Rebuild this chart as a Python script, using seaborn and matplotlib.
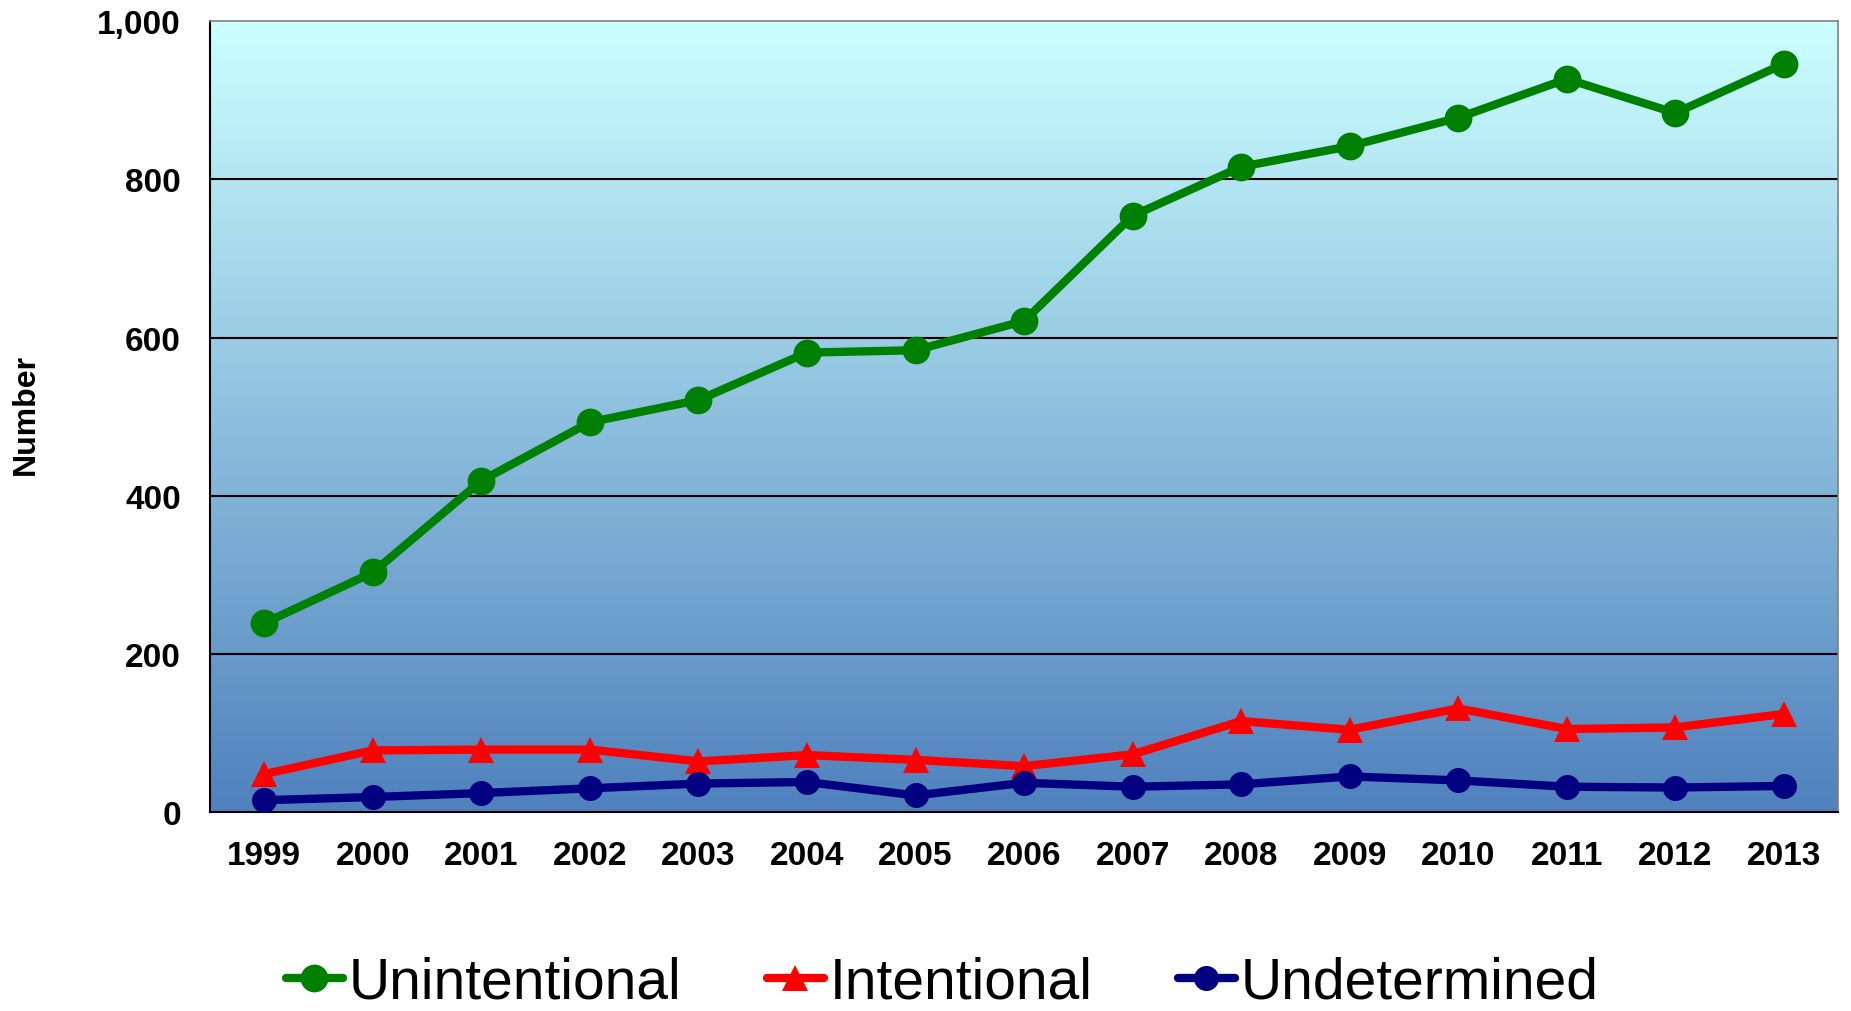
import numpy as np
import pandas as pd
import matplotlib
matplotlib.use('Agg')
import matplotlib.pyplot as plt
import matplotlib.colors as mcolors
import seaborn as sns

years = list(range(1999, 2014))
unintentional = [239, 303, 419, 493, 521, 581, 584, 621, 754, 816, 842, 878, 927, 884, 946]
intentional = [48, 78, 79, 79, 64, 72, 66, 58, 73, 115, 104, 131, 105, 107, 124]
undetermined = [15, 19, 24, 30, 36, 38, 21, 37, 32, 35, 45, 40, 32, 31, 33]
y_ticks = [0, 200, 400, 600, 800, 1000]
y_tick_labels = ['0', '200', '400', '600', '800', '1,000']

sns.set_style('white')
plt.rcParams['font.family'] = ['Liberation Sans', 'DejaVu Sans']
plt.rcParams['text.color'] = 'black'
plt.rcParams['xtick.color'] = 'black'
plt.rcParams['ytick.color'] = 'black'

fig = plt.figure(figsize=(18.51, 10.12), dpi=100)
ax = fig.add_axes([0.1135, 0.1966, 0.8795, 0.7814])

# gradient background (light cyan at top -> office blue at bottom)
cmap = mcolors.LinearSegmentedColormap.from_list('bg', ['#4F81BD', '#CCFFFF'])
grad = np.linspace(0, 1, 256).reshape(-1, 1)
ax.imshow(grad, cmap=cmap, aspect='auto', origin='lower',
          extent=[1998.5, 2013.5, 0, 1000], zorder=0)

df = pd.DataFrame({'Year': years, 'Unintentional': unintentional,
                   'Intentional': intentional, 'Undetermined': undetermined})

sns.lineplot(data=df, x='Year', y='Unintentional', ax=ax, color='#008000', lw=6,
             marker='o', markersize=20, markeredgewidth=0, label='Unintentional', zorder=5)
sns.lineplot(data=df, x='Year', y='Intentional', ax=ax, color='#FF0000', lw=6,
             marker='^', markersize=19, markeredgewidth=0, label='Intentional', zorder=4)
sns.lineplot(data=df, x='Year', y='Undetermined', ax=ax, color='#000080', lw=6,
             marker='o', markersize=18, markeredgewidth=0, label='Undetermined', zorder=4)

ax.set_xlim(1998.5, 2013.5)
ax.set_ylim(0, 1000)
ax.set_yticks(y_ticks)
ax.set_yticklabels(y_tick_labels)
ax.set_xticks(years)
ax.set_xticks(np.arange(1998.5, 2014, 1), minor=True)
ax.tick_params(axis='x', which='major', length=0, pad=20, labelsize=24)
ax.tick_params(axis='x', which='minor', length=10, width=1.5, direction='out', color='black')
ax.tick_params(axis='y', which='major', length=9, width=1.5, direction='out', color='black',
               labelsize=24, pad=12)
for lbl in ax.get_xticklabels() + ax.get_yticklabels():
    lbl.set_fontweight('bold')

for y in y_ticks[1:-1]:
    ax.axhline(y, color='black', lw=1.5, zorder=1)

ax.spines['left'].set_color('black')
ax.spines['left'].set_linewidth(1.5)
ax.spines['bottom'].set_color('black')
ax.spines['bottom'].set_linewidth(1.5)
for s in ['top', 'right']:
    ax.spines[s].set_visible(True)
    ax.spines[s].set_color('#808080')
    ax.spines[s].set_linewidth(1.2)

ax.set_xlabel('')
ax.set_ylabel('')
fig.text(0.014, 0.59, 'Number', rotation=90, fontsize=23, fontweight='bold',
         ha='center', va='center', color='black')

ax.get_legend().remove()
handles, labels = ax.get_legend_handles_labels()
leg = fig.legend(handles, labels, loc='center', bbox_to_anchor=(0.509, 0.028), ncol=3,
                 frameon=False, fontsize=41, handlelength=1.0, handletextpad=0.1,
                 columnspacing=1.5, markerscale=1.0)
for t in leg.get_texts():
    t.set_color('black')

fig.savefig('out.png', dpi=100)
